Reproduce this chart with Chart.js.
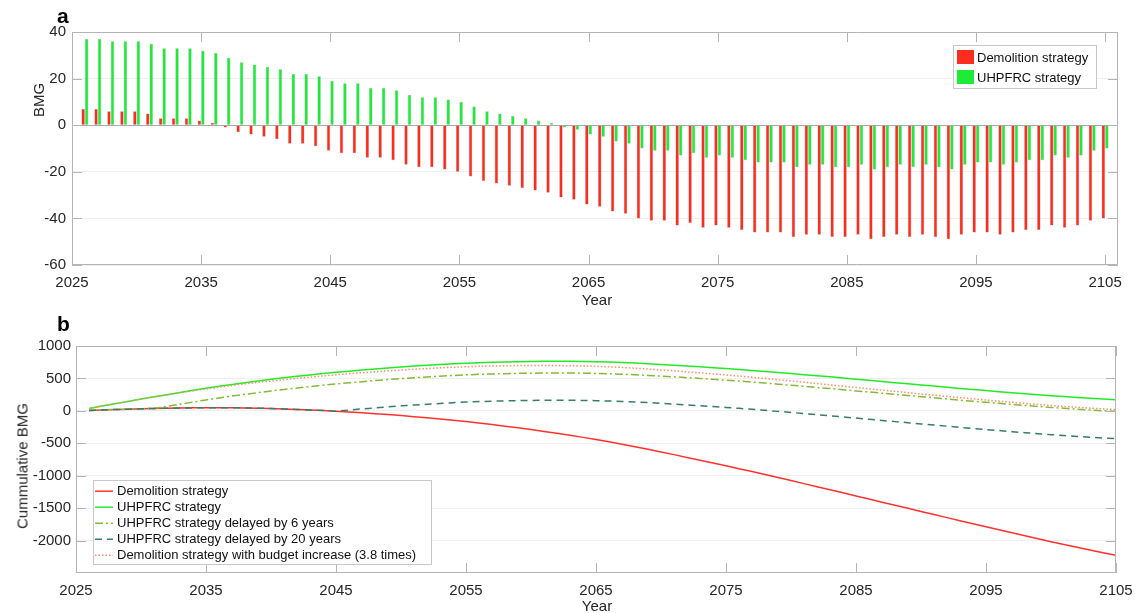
<!DOCTYPE html>
<html>
<head>
<meta charset="utf-8">
<script src="https://cdn.jsdelivr.net/npm/chart.js@4.4.1/dist/chart.umd.min.js"></script>
<style>
  html, body { margin: 0; padding: 0; background: #fff; }
  #fig { position: relative; width: 1135px; height: 613px; overflow: hidden;
         font-family: "Liberation Sans", Arial, Helvetica, sans-serif; color: #262626; }
  #fig canvas { position: absolute; left: 0; }
  .axt { position: absolute; white-space: nowrap; font-size: 15px; transform: translate(-50%, -50%); }
  .rot { transform: translate(-50%, -50%) rotate(-90deg); }
  .panel { position: absolute; font-weight: bold; font-size: 21px; color: #000; line-height: 24px; }
</style>
</head>
<body>
<div id="fig">
  <canvas id="chartA" width="1135" height="312" style="top:0"></canvas>
  <canvas id="chartB" width="1135" height="301" style="top:312px"></canvas>
  <div class="panel" style="left:57px;top:4px">a</div>
  <div class="panel" style="left:57px;top:312px">b</div>
  <div class="axt rot" style="left:38px;top:100px">BMG</div>
  <div class="axt" style="left:597px;top:299px">Year</div>
  <div class="axt rot" style="left:22px;top:466px">Cummulative BMG</div>
  <div class="axt" style="left:597px;top:605px">Year</div>
</div>
<script>
// ---- yearly balance (BMG), 2026-2105 ----
const years = [];
for (let yr = 2026; yr <= 2105; yr++) years.push(yr);

const demolitionBMG = [
  7, 7, 6, 6, 6, 5, 3, 3, 3, 2,
  1, -1, -3, -4, -5, -6, -8, -8, -9, -11,
  -12, -12, -14, -14, -15, -17, -18, -18, -19, -20,
  -22, -24, -25, -26, -27, -28, -29, -31, -32, -34,
  -35, -37, -38, -40, -41, -41, -43, -42, -44, -43,
  -44, -45, -46, -46, -46, -48, -47, -47, -48, -48,
  -47, -49, -48, -47, -48, -47, -48, -49, -47, -46,
  -46, -47, -46, -45, -45, -43, -44, -43, -41, -40
];
const uhpfrcBMG = [
  37, 37, 36, 36, 36, 35, 33, 33, 33, 32,
  31, 29, 27, 26, 25, 24, 22, 22, 21, 19,
  18, 18, 16, 16, 15, 13, 12, 12, 11, 10,
  8, 6, 5, 4, 3, 2, 1, -1, -2, -4,
  -5, -7, -8, -10, -11, -11, -13, -12, -14, -13,
  -14, -15, -16, -16, -16, -18, -17, -17, -18, -18,
  -17, -19, -18, -17, -18, -17, -18, -19, -17, -16,
  -16, -17, -16, -15, -15, -13, -14, -13, -11, -10
];

// ---- cumulative BMG, 2026-2105 ----
const cumDemolition = [
  7, 14, 20, 26, 32, 37, 40, 43, 46, 48,
  49, 48, 45, 41, 36, 30, 22, 14, 5, -6,
  -18, -30, -44, -58, -73, -90, -108, -126, -145, -165,
  -187, -211, -236, -262, -289, -317, -346, -377, -409, -443,
  -478, -515, -553, -593, -634, -675, -718, -760, -804, -847,
  -891, -936, -982, -1028, -1074, -1122, -1169, -1216, -1264, -1312,
  -1359, -1408, -1456, -1503, -1551, -1598, -1646, -1695, -1742, -1788,
  -1834, -1881, -1927, -1972, -2017, -2060, -2104, -2147, -2188, -2228
];
const cumUhpfrc = [
  37, 74, 110, 146, 182, 217, 250, 283, 316, 348,
  379, 408, 435, 461, 486, 510, 532, 554, 575, 594,
  612, 630, 646, 662, 677, 690, 702, 714, 725, 735,
  743, 749, 754, 758, 761, 763, 764, 763, 761, 757,
  752, 745, 737, 727, 716, 705, 692, 680, 666, 653,
  639, 624, 608, 592, 576, 558, 541, 524, 506, 488,
  471, 452, 434, 417, 399, 382, 364, 345, 328, 312,
  296, 279, 263, 248, 233, 220, 206, 193, 182, 172
];
const cumDelayed6 = [
  7, 14, 20, 26, 32, 37, 70, 103, 136, 168,
  199, 228, 255, 281, 306, 330, 352, 374, 395, 414,
  432, 450, 466, 482, 497, 510, 522, 534, 545, 555,
  563, 569, 574, 578, 581, 583, 584, 583, 581, 577,
  572, 565, 557, 547, 536, 525, 512, 500, 486, 473,
  459, 444, 428, 412, 396, 378, 361, 344, 326, 308,
  291, 272, 254, 237, 219, 202, 184, 165, 148, 132,
  116, 99, 83, 68, 53, 40, 26, 13, 2, -8
];
const cumDelayed20 = [
  7, 14, 20, 26, 32, 37, 40, 43, 46, 48,
  49, 48, 45, 41, 36, 30, 22, 14, 5, -6,
  12, 30, 46, 62, 77, 90, 102, 114, 125, 135,
  143, 149, 154, 158, 161, 163, 164, 163, 161, 157,
  152, 145, 137, 127, 116, 105, 92, 80, 66, 53,
  39, 24, 8, -8, -24, -42, -59, -76, -94, -112,
  -129, -148, -166, -183, -201, -218, -236, -255, -272, -288,
  -304, -321, -337, -352, -367, -380, -394, -407, -418, -428
];
const budgetYears = [2026, 2030, 2035, 2040, 2045, 2050, 2055, 2060, 2065, 2070, 2075, 2080, 2085, 2090, 2095, 2100, 2105];
const cumBudget = [37, 180, 338, 461, 556, 629, 680, 699, 687, 631, 553, 461, 360, 261, 167, 83, 17];

// ---- axis ticks ----
const yearTicks = [2025, 2035, 2045, 2055, 2065, 2075, 2085, 2095, 2105];
const cumTicks = [-2000, -1500, -1000, -500, 0, 500, 1000];

const FONT = '"Liberation Sans", Arial, Helvetica, sans-serif';
Chart.defaults.font.family = FONT;
Chart.defaults.font.size = 15;
Chart.defaults.color = '#262626';

const FRAME = '#b4b4b4';
const pts = (xs, ys) => xs.map((x, i) => ({ x, y: ys[i] }));
const fixTicks = list => scale => { scale.ticks = list.map(v => ({ value: v })); };
const plain = v => String(v);
// fixed axis box sizes; edge tick labels may overhang the plot area
const fitX = h => s => { s.height = h; s.paddingLeft = 0; s.paddingRight = 0; };
const fitY = w => s => { s.width = w; s.paddingTop = 0; s.paddingBottom = 0; };

// box around the axes with inward tick marks on all four sides
const framePlugin = {
  id: 'frame',
  afterDatasetsDraw(chart, args, o) {
    const { ctx, chartArea: a, scales: { x, y } } = chart;
    ctx.save();
    ctx.strokeStyle = FRAME;
    ctx.lineWidth = 1;
    ctx.beginPath();
    ctx.rect(Math.round(a.left) + 0.5, Math.round(a.top) + 0.5,
             Math.round(a.right - a.left) - 1, Math.round(a.bottom - a.top) - 1);
    x.ticks.forEach(t => {
      const px = Math.round(x.getPixelForValue(t.value)) + 0.5;
      ctx.moveTo(px, a.bottom); ctx.lineTo(px, a.bottom - o.len);
      ctx.moveTo(px, a.top); ctx.lineTo(px, a.top + o.len);
    });
    y.ticks.forEach(t => {
      const py = Math.round(y.getPixelForValue(t.value)) + 0.5;
      ctx.moveTo(a.left, py); ctx.lineTo(a.left + o.len, py);
      ctx.moveTo(a.right, py); ctx.lineTo(a.right - o.len, py);
    });
    ctx.stroke();
    ctx.restore();
  }
};

// legend box drawn inside the plot area
const boxLegend = {
  id: 'boxLegend',
  afterDraw(chart, args, o) {
    const { ctx, chartArea: a } = chart;
    const bx = o.anchor === 'topright' ? a.right - o.dx - o.w : a.left + o.dx;
    const by = o.anchor === 'topright' ? a.top + o.dy : a.bottom - o.dy - o.h;
    ctx.save();
    ctx.fillStyle = '#fff';
    ctx.fillRect(bx, by, o.w, o.h);
    ctx.strokeStyle = '#c8c8c8';
    ctx.lineWidth = 1;
    ctx.strokeRect(Math.round(bx) + 0.5, Math.round(by) + 0.5, o.w, o.h);
    ctx.font = '13px ' + FONT;
    ctx.textBaseline = 'middle';
    ctx.fillStyle = '#111';
    chart.data.datasets.forEach((ds, i) => {
      const cy = by + o.first + i * o.step;
      if (o.kind === 'bar') {
        ctx.fillStyle = ds.backgroundColor;
        ctx.fillRect(bx + 4, cy - 7, 17, 14);
        ctx.fillStyle = '#111';
      } else {
        ctx.beginPath();
        ctx.strokeStyle = ds.borderColor;
        ctx.lineWidth = ds.borderWidth;
        ctx.setLineDash(ds.borderDash || []);
        ctx.moveTo(bx + 2, cy + 0.5);
        ctx.lineTo(bx + 20, cy + 0.5);
        ctx.stroke();
        ctx.setLineDash([]);
      }
      ctx.fillText(ds.label, bx + o.textX, cy + 1);
    });
    ctx.restore();
  }
};

const RED = 'rgb(250,45,30)';
const GREEN = 'rgb(30,235,55)';

// ---- panel a: yearly BMG bars ----
new Chart(document.getElementById('chartA'), {
  type: 'bar',
  data: {
    datasets: [
      { label: 'Demolition strategy', data: pts(years, demolitionBMG),
        backgroundColor: RED, borderColor: 'rgba(120,30,20,0.5)', borderWidth: 0.5,
        categoryPercentage: 0.54, barPercentage: 0.98 },
      { label: 'UHPFRC strategy', data: pts(years, uhpfrcBMG),
        backgroundColor: GREEN, borderColor: 'rgba(30,110,40,0.5)', borderWidth: 0.5,
        categoryPercentage: 0.54, barPercentage: 0.98 }
    ]
  },
  options: {
    responsive: false,
    animation: false,
    layout: { padding: { top: 32, right: 17, left: 0, bottom: 0 } },
    plugins: {
      legend: { display: false }, tooltip: { enabled: false },
      frame: { len: 10 },
      boxLegend: { anchor: 'topright', kind: 'bar', dx: 22, dy: 13, w: 143, h: 43,
                   first: 12, step: 20, textX: 24 }
    },
    scales: {
      x: {
        type: 'linear', min: 2025, max: 2106, offset: false,
        afterBuildTicks: fixTicks(yearTicks),
        afterFit: fitX(47),
        grid: { display: false, drawTicks: false, offset: false },
        border: { display: false },
        ticks: { padding: 9, maxRotation: 0, autoSkip: false, callback: plain }
      },
      y: {
        min: -60, max: 40,
        ticks: { stepSize: 20, padding: 6, callback: plain },
        afterFit: fitY(72),
        grid: { drawTicks: false,
                color: c => c.tick && c.tick.value === 0 ? '#a8a8a8' : '#efefef' },
        border: { display: false }
      }
    }
  },
  plugins: [framePlugin, boxLegend]
});

// ---- panel b: cumulative BMG ----
const lineStyle = (label, xs, ys, color, dash, order) => ({
  label, data: pts(xs, ys), borderColor: color, borderWidth: 1.5, borderDash: dash,
  pointRadius: 0, fill: false, order
});

const budgetSet = lineStyle('Demolition strategy with budget increase (3.8 times)', budgetYears, cumBudget,
                            'rgb(250,145,105)', [1.5, 2], 1);
budgetSet.cubicInterpolationMode = 'monotone';

new Chart(document.getElementById('chartB'), {
  type: 'line',
  data: {
    datasets: [
      lineStyle('Demolition strategy', years, cumDemolition, 'rgb(255,50,45)', [], 5),
      lineStyle('UHPFRC strategy', years, cumUhpfrc, 'rgb(35,235,35)', [], 4),
      lineStyle('UHPFRC strategy delayed by 6 years', years, cumDelayed6, 'rgb(135,185,55)', [8, 3, 2, 3], 3),
      lineStyle('UHPFRC strategy delayed by 20 years', years, cumDelayed20, 'rgb(55,125,105)', [7, 5], 2),
      budgetSet
    ]
  },
  options: {
    responsive: false,
    animation: false,
    layout: { padding: { top: 34, right: 19, left: 0, bottom: 0 } },
    plugins: {
      legend: { display: false }, tooltip: { enabled: false },
      frame: { len: 10 },
      boxLegend: { anchor: 'bottomleft', kind: 'line', dx: 17, dy: 9, w: 338, h: 84,
                   first: 10.7, step: 16, textX: 24 }
    },
    scales: {
      x: {
        type: 'linear', min: 2025, max: 2105,
        afterBuildTicks: fixTicks(yearTicks),
        afterFit: fitX(40),
        grid: { display: false, drawTicks: false },
        border: { display: false },
        ticks: { padding: 9, maxRotation: 0, autoSkip: false, callback: plain }
      },
      y: {
        min: -2500, max: 1000,
        afterBuildTicks: fixTicks(cumTicks),
        afterFit: fitY(76),
        ticks: { padding: 5, callback: plain },
        grid: { drawTicks: false, color: '#efefef' },
        border: { display: false }
      }
    }
  },
  plugins: [framePlugin, boxLegend]
});
</script>
</body>
</html>
